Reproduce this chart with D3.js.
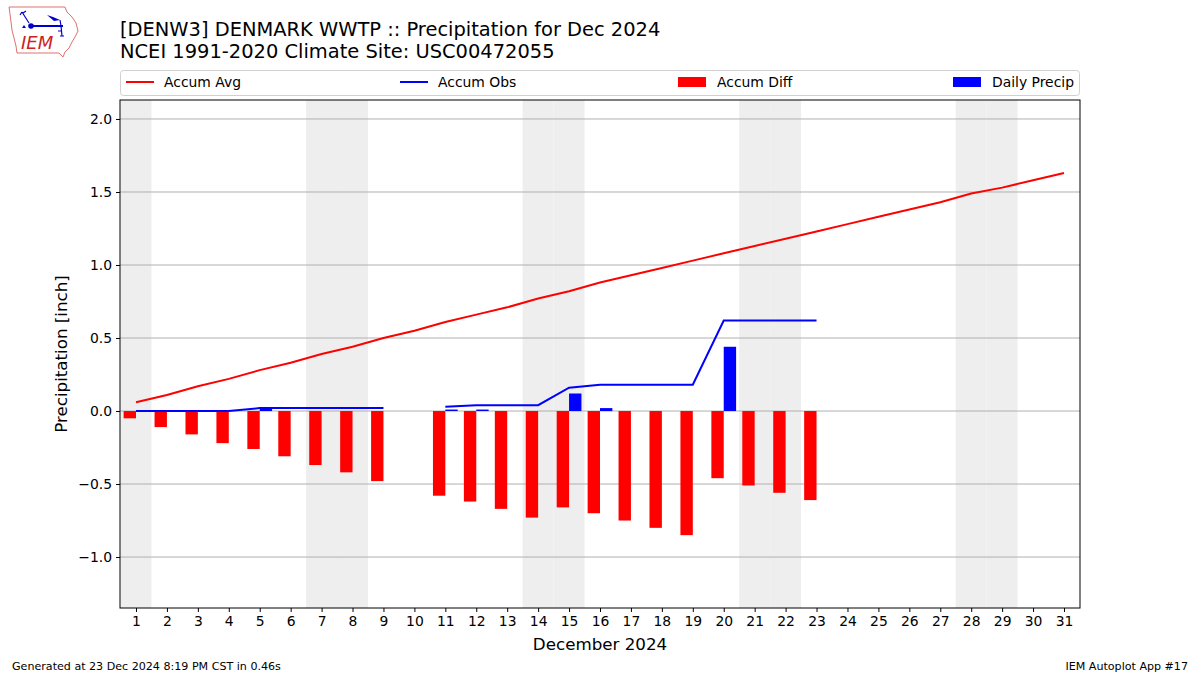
<!DOCTYPE html>
<html><head><meta charset="utf-8">
<script src="https://cdn.jsdelivr.net/npm/d3@7"></script>
<style>body{margin:0;background:#fff;} text{font-family:"DejaVu Sans",sans-serif;}</style>
</head><body>
<svg id="c" width="1200" height="675"></svg>
<script>
const days = d3.range(1, 32);
const accumAvg = [0.06,0.11,0.17,0.22,0.28,0.33,0.39,0.44,0.50,0.55,0.61,0.66,0.71,0.77,0.82,0.88,0.93,0.98,1.03,1.08,1.13,1.18,1.23,1.28,1.33,1.38,1.43,1.49,1.53,1.58,1.63];
const accumObs = [0,0,0,0,0.02,0.02,0.02,0.02,0.02,null,0.03,0.04,0.04,0.04,0.16,0.18,0.18,0.18,0.18,0.62,0.62,0.62,0.62];
const accumDiff = [-0.05,-0.11,-0.16,-0.22,-0.26,-0.31,-0.37,-0.42,-0.48,null,-0.58,-0.62,-0.67,-0.73,-0.66,-0.70,-0.75,-0.80,-0.85,-0.46,-0.51,-0.56,-0.61];
const dailyPrecip = [0,0,0,0,0.02,0,0,0,0,null,0.01,0.01,0,0,0.12,0.02,0,0,0,0.44,0,0,0];
const weekendDays = [1,7,8,14,15,21,22,28,29];
const yTicks = [-1.0,-0.5,0.0,0.5,1.0,1.5,2.0];
const title1 = "[DENW3] DENMARK WWTP :: Precipitation for Dec 2024";
const title2 = "NCEI 1991-2020 Climate Site: USC00472055";

const svg = d3.select("#c");
const L=120,R=1080,T=100,B=608;
const x = d3.scaleLinear().domain([0.483,31.517]).range([L,R]);
const y = d3.scaleLinear().domain([-1.349,2.13]).range([B,T]);

// weekend shading
svg.append("g").selectAll("rect").data(weekendDays).join("rect")
  .attr("x",d=>Math.max(L,x(d-0.5))).attr("width",d=>x(d+0.5)-Math.max(L,x(d-0.5)))
  .attr("y",T).attr("height",B-T).attr("fill","#eeeeee");

// grid
svg.append("g").selectAll("line").data(yTicks).join("line")
  .attr("x1",L).attr("x2",R).attr("y1",d=>y(d)).attr("y2",d=>y(d))
  .attr("stroke","#b0b0b0").attr("stroke-width",1);

// diff bars
svg.append("g").selectAll("rect").data(accumDiff.map((v,i)=>({d:i+1,v})).filter(o=>o.v!==null)).join("rect")
  .attr("x",o=>x(o.d-0.4)).attr("width",o=>x(o.d)-x(o.d-0.4))
  .attr("y",o=>y(Math.max(0,o.v))).attr("height",o=>Math.abs(y(o.v)-y(0)))
  .attr("fill","#ff0000");
// daily precip bars
svg.append("g").selectAll("rect").data(dailyPrecip.map((v,i)=>({d:i+1,v})).filter(o=>o.v)).join("rect")
  .attr("x",o=>x(o.d)).attr("width",o=>x(o.d+0.4)-x(o.d))
  .attr("y",o=>y(o.v)).attr("height",o=>y(0)-y(o.v))
  .attr("fill","#0000ff");

const line = d3.line().defined(o=>o.v!==null).x(o=>x(o.d)).y(o=>y(o.v));
svg.append("path").datum(accumAvg.map((v,i)=>({d:i+1,v})))
  .attr("d",line).attr("fill","none").attr("stroke","#ff0000").attr("stroke-width",2);
svg.append("path").datum(accumObs.map((v,i)=>({d:i+1,v})))
  .attr("d",line).attr("fill","none").attr("stroke","#0000ff").attr("stroke-width",2);

// frame
svg.append("rect").attr("x",L).attr("y",T).attr("width",R-L).attr("height",B-T)
  .attr("fill","none").attr("stroke","#000").attr("stroke-width",1);

// axes
const fmt = d=>d3.format(".1f")(d).replace("-","\u2212");
const ya = svg.append("g").attr("transform",`translate(${L},0)`)
  .call(d3.axisLeft(y).tickValues(yTicks).tickFormat(fmt).tickSize(4).tickPadding(4));
const xa = svg.append("g").attr("transform",`translate(0,${B})`)
  .call(d3.axisBottom(x).tickValues(days).tickFormat(d3.format("d")).tickSize(4).tickPadding(4));
[ya,xa].forEach(a=>{a.select(".domain").remove();a.selectAll("text").attr("font-size",13.9).attr("fill","#000").attr("font-family","DejaVu Sans");a.selectAll("line").attr("stroke","#000");});

svg.append("text").attr("x",600).attr("y",650).attr("text-anchor","middle").attr("font-size",16.7).text("December 2024");
svg.append("text").attr("transform","translate(67,354) rotate(-90)").attr("text-anchor","middle").attr("font-size",16.7).text("Precipitation [inch]");

// titles
svg.append("text").attr("x",120).attr("y",35.5).attr("font-size",19.45).text(title1);
svg.append("text").attr("x",120).attr("y",57.5).attr("font-size",19.45).text(title2);

// legend
svg.append("rect").attr("x",120.5).attr("y",70.5).attr("width",959).attr("height",25).attr("rx",3)
  .attr("fill","#fff").attr("stroke","#d0d0d0");
const legend = [
  {label:"Accum Avg",type:"line",color:"#ff0000",x:126},
  {label:"Accum Obs",type:"line",color:"#0000ff",x:400},
  {label:"Accum Diff",type:"rect",color:"#ff0000",x:678},
  {label:"Daily Precip",type:"rect",color:"#0000ff",x:953}
];
const lg = svg.append("g").selectAll("g").data(legend).join("g");
lg.each(function(o){
  const g=d3.select(this);
  if(o.type==="line") g.append("line").attr("x1",o.x).attr("x2",o.x+28).attr("y1",82).attr("y2",82).attr("stroke",o.color).attr("stroke-width",2);
  else g.append("rect").attr("x",o.x).attr("y",77).attr("width",28).attr("height",10).attr("fill",o.color);
  g.append("text").attr("x",o.x+(o.type==="line"?38:39)).attr("y",86.5).attr("font-size",13.9).text(o.label);
});

// footer
svg.append("text").attr("x",12).attr("y",670).attr("font-size",11.1).text("Generated at 23 Dec 2024 8:19 PM CST in 0.46s");
svg.append("text").attr("x",1188).attr("y",670).attr("text-anchor","end").attr("font-size",11.1).text("IEM Autoplot App #17");

// logo
const logo = svg.append("g");
logo.append("path").attr("d","M9,7 L65,7 L67,12 L72,17 L76,23 L78,31 L75,37 L72,42 L69,48 L65,52 L63,57 L59,53 L17,53 L16,46 L14,38 L12,30 L11,22 L10,14 Z")
  .attr("fill","none").attr("stroke","#e07070").attr("stroke-width",1);
logo.append("line").attr("x1",31).attr("x2",63).attr("y1",26).attr("y2",26).attr("stroke","#0000cc").attr("stroke-width",2);
logo.append("circle").attr("cx",31).attr("cy",26).attr("r",2.8).attr("fill","#0000cc");
logo.append("path").attr("d","M22,12 L29,23 M22,12 L20,15 M23,13 L26,11").attr("stroke","#0000cc").attr("fill","none").attr("stroke-width",1.2);
logo.append("path").attr("d","M47,15 L53,17 L60,20 L54,21 Z").attr("fill","#0000cc");
logo.append("path").attr("d","M60,20 L61,26 L62,36 M58,31 L62,31 M60,36 L64,36").attr("stroke","#0000cc").attr("fill","none").attr("stroke-width",1.2);
logo.append("path").attr("d","M22,28 L24,25 L26,28 Z").attr("fill","#0000cc");
logo.append("text").attr("x",21).attr("y",49).attr("font-family","Liberation Serif").attr("font-style","italic").attr("font-size",18).attr("fill","#cc2222").text("IEM");
</script>
</body></html>
